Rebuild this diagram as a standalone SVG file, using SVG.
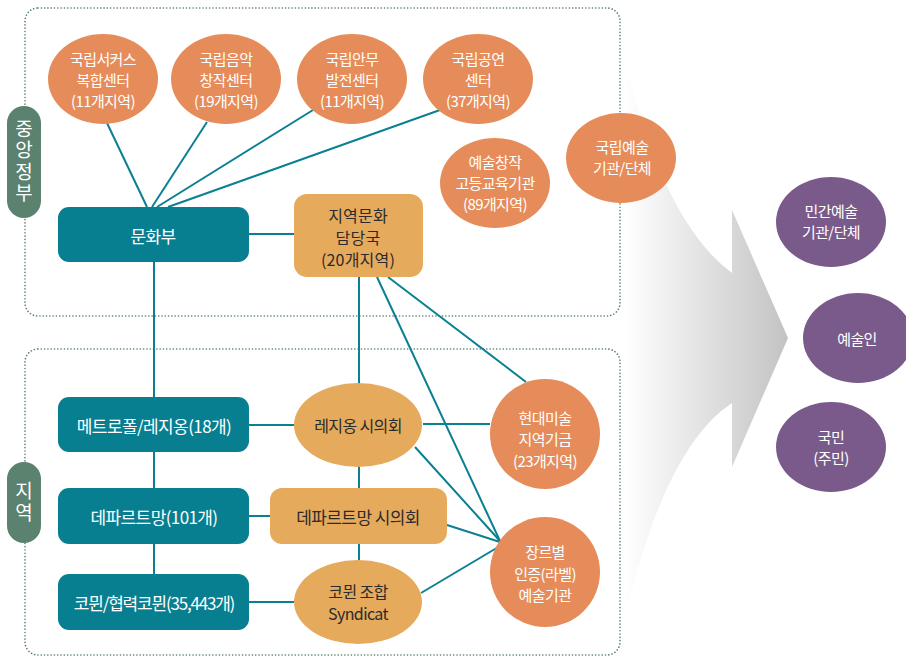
<svg xmlns="http://www.w3.org/2000/svg" width="906" height="656" viewBox="0 0 906 656">
<defs>
<linearGradient id="ag" gradientUnits="userSpaceOnUse" x1="625" y1="0" x2="790" y2="0">
<stop offset="0" stop-color="#ffffff"/>
<stop offset="1" stop-color="#c2c2c2"/>
</linearGradient>
<style>
text{font-family:"Noto Sans CJK KR","Noto Sans",sans-serif;text-anchor:middle;dominant-baseline:central}
.box{fill:none;stroke:#5c7e70;stroke-width:1.6;stroke-dasharray:0.1 3.2;stroke-linecap:round}
.pill{fill:#5b826f}
.side{fill:#fff;font-size:19px;writing-mode:vertical-rl;text-orientation:upright;letter-spacing:2.5px}
.org{fill:#e68c5a}
.lor{fill:#e6aa5c}
.teal{fill:#087f91}
.pur{fill:#7a5a8a}
.w{fill:#fff;font-size:15px;letter-spacing:-0.6px}
.wb{fill:#fff;font-size:17px;letter-spacing:-0.6px}
.d{fill:#2b2b2b;font-size:17px;letter-spacing:-0.6px}
.dm{fill:#2b2b2b;font-size:16px;letter-spacing:0.2px}
.ds{fill:#2b2b2b;font-size:16px;letter-spacing:-0.6px}
#conn line{stroke:#0a8092;stroke-width:2}
</style>
</defs>
<rect width="906" height="656" fill="#fff"/>
<path d="M620,40 Q660,220 732,273 L732,210 L788,338 L732,467 L732,403 Q660,450 620,642 Z" fill="url(#ag)"/>
<rect class="box" x="25" y="8" width="595" height="308" rx="13"/>
<rect class="box" x="25" y="349" width="595" height="306" rx="13"/>
<g id="side-central"><rect class="pill" x="7" y="106" width="34" height="112" rx="17"/>
<text class="side" x="24" y="162">중앙정부</text></g>
<g id="side-local"><rect class="pill" x="7" y="462" width="34" height="81" rx="17"/>
<text class="side" x="24" y="503">지역</text></g>
<g id="conn">
<line x1="147" y1="207" x2="107" y2="123"/>
<line x1="152" y1="207" x2="207" y2="122"/>
<line x1="157" y1="207" x2="313" y2="110"/>
<line x1="168" y1="207" x2="440" y2="110"/>
<line x1="249" y1="234" x2="294" y2="234"/>
<line x1="154" y1="262" x2="154" y2="574"/>
<line x1="249" y1="425" x2="294" y2="425"/>
<line x1="249" y1="516" x2="270" y2="516"/>
<line x1="249" y1="602" x2="294" y2="602"/>
<line x1="359" y1="277" x2="359" y2="560"/>
<line x1="377" y1="277" x2="500" y2="541"/>
<line x1="388" y1="277" x2="526" y2="382"/>
<line x1="423" y1="424" x2="490" y2="424"/>
<line x1="415" y1="447" x2="500" y2="541"/>
<line x1="447" y1="525" x2="500" y2="542"/>
<line x1="421" y1="593" x2="500" y2="546"/>
</g>
<g id="n-circus"><ellipse class="org" cx="103" cy="79" rx="55" ry="45"/><text class="w"><tspan x="103" y="58">국립서커스</tspan><tspan x="103" y="79">복합센터</tspan><tspan x="103" y="100">(11개지역)</tspan></text></g>
<g id="n-music"><ellipse class="org" cx="226" cy="79" rx="55" ry="45"/><text class="w"><tspan x="226" y="58">국립음악</tspan><tspan x="226" y="79">창작센터</tspan><tspan x="226" y="100">(19개지역)</tspan></text></g>
<g id="n-dance"><ellipse class="org" cx="352" cy="79" rx="55" ry="45"/><text class="w"><tspan x="352" y="58">국립안무</tspan><tspan x="352" y="79">발전센터</tspan><tspan x="352" y="100">(11개지역)</tspan></text></g>
<g id="n-perf"><ellipse class="org" cx="478" cy="79" rx="55" ry="45"/><text class="w"><tspan x="478" y="58">국립공연</tspan><tspan x="478" y="79">센터</tspan><tspan x="478" y="100">(37개지역)</tspan></text></g>
<g id="n-edu"><ellipse class="org" cx="495" cy="183" rx="55" ry="45"/><text class="w"><tspan x="495" y="161">예술창작</tspan><tspan x="495" y="182">고등교육기관</tspan><tspan x="495" y="203">(89개지역)</tspan></text></g>
<g id="n-natl"><ellipse class="org" cx="621" cy="158" rx="55" ry="45"/><text class="w"><tspan x="622" y="146">국립예술</tspan><tspan x="622" y="167">기관/단체</tspan></text></g>
<g id="n-private"><ellipse class="pur" cx="831" cy="222" rx="55" ry="45"/><text class="w"><tspan x="831" y="210">민간예술</tspan><tspan x="831" y="231">기관/단체</tspan></text></g>
<g id="n-artist"><ellipse class="pur" cx="858" cy="338" rx="55" ry="45"/><text class="w" x="857" y="338">예술인</text></g>
<g id="n-people"><ellipse class="pur" cx="831" cy="447" rx="55" ry="45"/><text class="w"><tspan x="831" y="436">국민</tspan><tspan x="831" y="457">(주민)</tspan></text></g>
<g id="n-ministry"><rect class="teal" x="58" y="207" width="191" height="55" rx="11"/><text class="wb" x="153" y="235">문화부</text></g>
<g id="n-regional"><rect class="lor" x="294" y="194" width="129" height="83" rx="13"/><text class="dm"><tspan x="358" y="215">지역문화</tspan><tspan x="358" y="237">담당국</tspan><tspan x="358" y="259">(20개지역)</tspan></text></g>
<g id="n-metro"><rect class="teal" x="58" y="397" width="191" height="55" rx="11"/><text class="wb" x="154" y="425">메트로폴/레지옹(18개)</text></g>
<g id="n-dept"><rect class="teal" x="58" y="488" width="191" height="56" rx="11"/><text class="wb" x="154" y="516">데파르트망(101개)</text></g>
<g id="n-commune"><rect class="teal" x="58" y="574" width="191" height="56" rx="11"/><text class="wb" x="154" y="602" style="letter-spacing:-1.2px">코뮌/협력코뮌(35,443개)</text></g>
<g id="n-region-council"><ellipse class="lor" cx="358" cy="425" rx="64" ry="42"/><text class="ds" x="358" y="425">레지옹 시의회</text></g>
<g id="n-dept-council"><rect class="lor" x="270" y="488" width="177" height="56" rx="12"/><text class="d" x="358" y="516">데파르트망 시의회</text></g>
<g id="n-syndicat"><ellipse class="lor" cx="358" cy="602" rx="64" ry="42"/><text class="ds"><tspan x="358" y="591">코뮌 조합</tspan><tspan x="358" y="613">Syndicat</tspan></text></g>
<g id="n-frac"><circle class="org" cx="545" cy="434" r="55"/><text class="w"><tspan x="545" y="417">현대미술</tspan><tspan x="545" y="438">지역기금</tspan><tspan x="545" y="460">(23개지역)</tspan></text></g>
<g id="n-label"><circle class="org" cx="545" cy="572" r="55"/><text class="w"><tspan x="545" y="551">장르별</tspan><tspan x="545" y="573">인증(라벨)</tspan><tspan x="545" y="594">예술기관</tspan></text></g>
</svg>
